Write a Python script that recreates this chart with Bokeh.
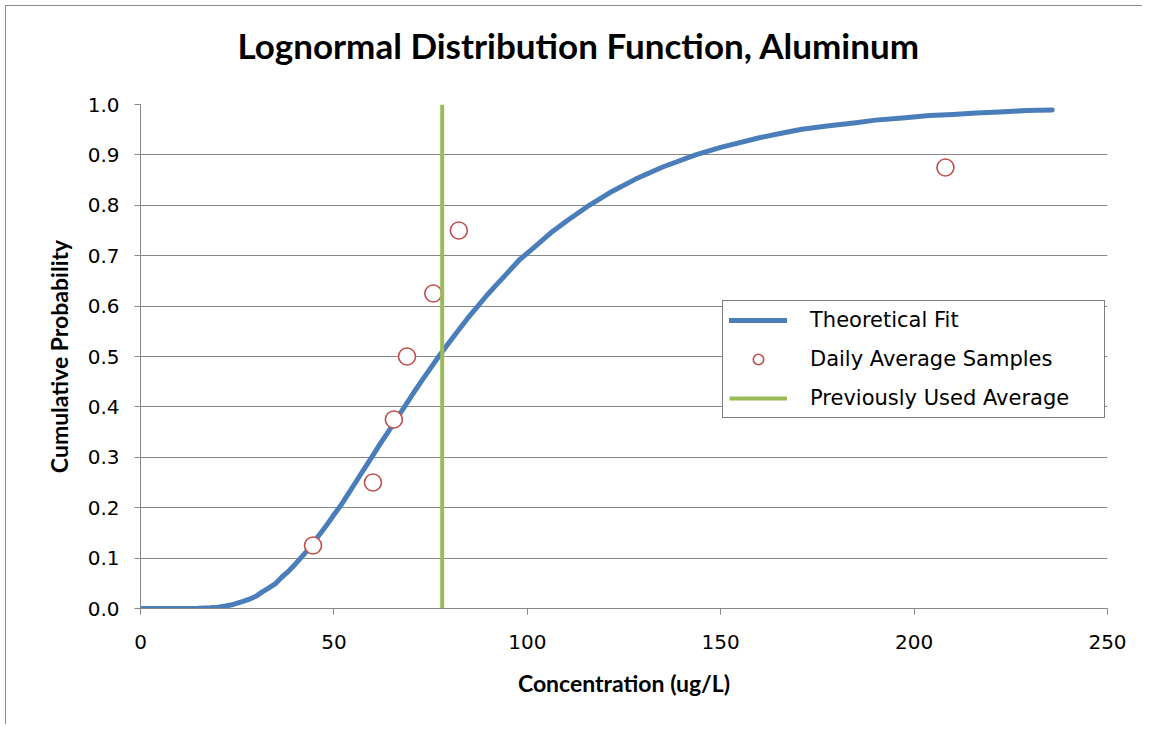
from bokeh.plotting import figure
from bokeh.models import Range1d, Legend, LegendItem, FixedTicker, NumeralTickFormatter, Title
from bokeh.embed import file_html
from bokeh.resources import INLINE

# ---- data ----
chart_title = "Lognormal Distribution Function, Aluminum"
x_title = "Concentration (ug/L)"
y_title = "Cumulative Probability"

fit_x = [0, 10, 12, 15, 18, 20, 22, 24, 26.5, 28, 30, 31.5, 33, 35, 36.5, 38, 40, 41.4,
         43, 45, 46.5, 48, 50, 52, 54, 56, 58, 60, 62, 64, 66, 68.5, 70.5, 73, 75,
         77.1, 79.5, 82, 84.5, 87, 89.5, 92, 95, 98, 102, 106, 110, 116, 122, 128,
         135, 143.5, 150, 160, 165, 171, 178, 185, 190, 197, 204, 210, 216, 222,
         229, 235.7]
fit_y = [0, 0, 0.0001, 0.0004, 0.0013, 0.0027, 0.005, 0.008, 0.014, 0.018, 0.025,
         0.033, 0.04, 0.05, 0.062, 0.072, 0.088, 0.10, 0.114, 0.134, 0.149, 0.164,
         0.186, 0.207, 0.231, 0.255, 0.279, 0.303, 0.327, 0.35, 0.374, 0.403, 0.427,
         0.455, 0.477, 0.50, 0.525, 0.55, 0.575, 0.598, 0.621, 0.642, 0.667, 0.692,
         0.718, 0.745, 0.768, 0.80, 0.828, 0.852, 0.876, 0.90, 0.915, 0.934, 0.942,
         0.951, 0.958, 0.964, 0.969, 0.973, 0.978, 0.980, 0.983, 0.985, 0.988, 0.989]

sample_x = [44.6, 60.1, 65.5, 68.9, 75.7, 82.3, 208.1]
sample_y = [0.125, 0.25, 0.375, 0.5, 0.625, 0.75, 0.875]

prev_avg_x = [78.0, 78.0]
prev_avg_y = [0.0, 1.0]

x_ticks = [0, 50, 100, 150, 200, 250]
y_ticks = [0.0, 0.1, 0.2, 0.3, 0.4, 0.5, 0.6, 0.7, 0.8, 0.9, 1.0]

series_labels = ["Theoretical Fit", "Daily Average Samples", "Previously Used Average"]

# ---- figure ----
p = figure(width=1137, height=719,
           x_range=Range1d(0, 250), y_range=Range1d(0, 1),
           output_backend="svg", toolbar_location=None,
           min_border_left=134, min_border_right=36,
           min_border_top=98, min_border_bottom=117)
p.styles = {"border-left": "1px solid #8c8c8c", "border-top": "1px solid #8c8c8c",
            "margin-left": "5px", "margin-top": "5px"}
p.outline_line_color = None
p.background_fill_color = "white"
p.border_fill_color = "white"

# spacer between the title and the plot area
p.add_layout(Title(text=" ", text_font_size="1px", standoff=36), "above")

p.title.text = chart_title
p.title.align = "left"
p.title.offset = 97
p.title.text_font = "Lato"
p.title.text_font_style = "bold"
p.title.text_font_size = "35px"
p.title.text_color = "black"
p.title.standoff = 0

p.xgrid.visible = False
p.ygrid.grid_line_color = "#878787"
p.ygrid.grid_line_width = 1
p.ygrid.ticker = FixedTicker(ticks=y_ticks)

for ax in (p.xaxis[0], p.yaxis[0]):
    ax.axis_line_color = "#878787"
    ax.axis_line_width = 1
    ax.major_tick_line_color = "#878787"
    ax.major_tick_in = 0
    ax.major_tick_out = 6
    ax.minor_tick_line_color = None
    ax.major_label_text_font = "DejaVu Sans"
    ax.major_label_text_font_size = "20px"
    ax.major_label_text_color = "black"
    ax.axis_label_text_font = "Lato"
    ax.axis_label_text_font_style = "bold"
    ax.axis_label_text_font_size = "23px"
    ax.axis_label_text_color = "black"

p.xaxis[0].ticker = FixedTicker(ticks=x_ticks)
p.xaxis[0].formatter = NumeralTickFormatter(format="0")
p.xaxis[0].axis_label = x_title
p.xaxis[0].major_label_standoff = 20
p.xaxis[0].axis_label_standoff = 17

p.yaxis[0].ticker = FixedTicker(ticks=y_ticks)
p.yaxis[0].formatter = NumeralTickFormatter(format="0.0")
p.yaxis[0].axis_label = y_title
p.yaxis[0].major_label_standoff = 15
p.yaxis[0].axis_label_standoff = 12

r_fit = p.line(fit_x, fit_y, line_color="#4A7EBB", line_width=5, line_cap="round",
               line_join="round")
r_samp = p.scatter(sample_x, sample_y, marker="circle", size=17,
                   line_color="#C0504D", line_width=1.6, fill_color="white")
r_prev = p.line(prev_avg_x, prev_avg_y, line_color="#9BBB59", line_width=4)

legend = Legend(items=[LegendItem(label=series_labels[0], renderers=[r_fit]),
                       LegendItem(label=series_labels[1], renderers=[r_samp]),
                       LegendItem(label=series_labels[2], renderers=[r_prev])],
                location=(582, 190))
legend.margin = 0
legend.padding = 6
legend.spacing = 13
legend.glyph_width = 58
legend.glyph_height = 26
legend.label_height = 26
legend.label_standoff = 23
legend.label_width = 288
legend.label_text_font = "DejaVu Sans"
legend.label_text_font_size = "21px"
legend.label_text_color = "black"
legend.border_line_color = "black"
legend.border_line_width = 1
legend.background_fill_color = "white"
legend.background_fill_alpha = 1
p.add_layout(legend)

open("out.html", "w").write(file_html(p, INLINE))
